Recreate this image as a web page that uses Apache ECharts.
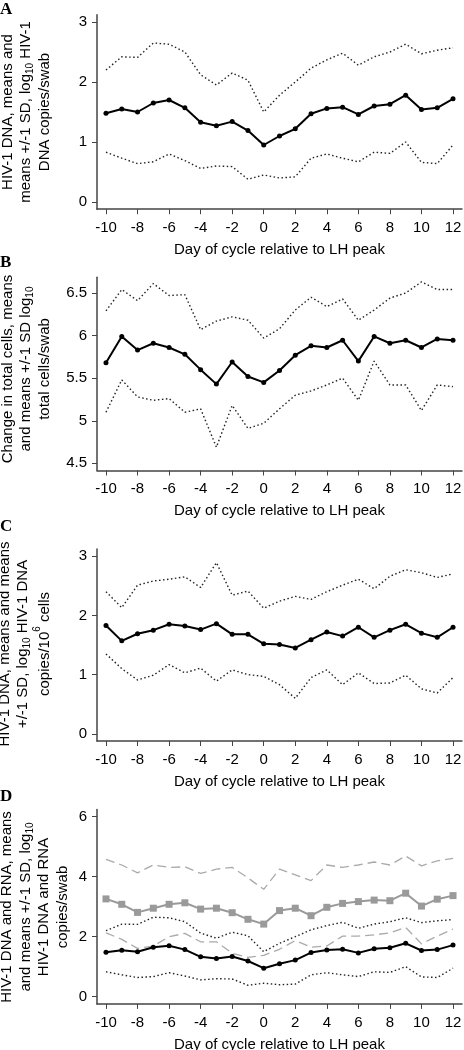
<!DOCTYPE html>
<html><head><meta charset="utf-8">
<script src="https://cdn.jsdelivr.net/npm/echarts@6/dist/echarts.min.js"></script>
<style>html,body{margin:0;padding:0;background:#fff}#c{width:464px;height:1050px}</style>
</head><body><div id="c"></div>
<script>
// ---- data ----
const days = [-10,-9,-8,-7,-6,-5,-4,-3,-2,-1,0,1,2,3,4,5,6,7,8,9,10,11,12];
const xTicks = [-10,-8,-6,-4,-2,0,2,4,6,8,10,12];

// Panel A (and D): HIV-1 DNA copies/swab
const dnaMean  = [1.48,1.55,1.50,1.65,1.70,1.57,1.33,1.27,1.34,1.19,0.95,1.10,1.22,1.47,1.56,1.58,1.46,1.60,1.63,1.78,1.54,1.57,1.72];
const dnaUpper = [2.20,2.42,2.41,2.65,2.63,2.50,2.12,1.95,2.15,2.03,1.50,1.78,2.00,2.23,2.37,2.48,2.28,2.42,2.50,2.63,2.47,2.53,2.57];
const dnaLower = [0.83,0.73,0.64,0.67,0.80,0.69,0.56,0.60,0.59,0.38,0.45,0.40,0.42,0.73,0.80,0.73,0.67,0.83,0.81,1.00,0.66,0.64,0.95];

// Panel B: total cells/swab
const cellsMean  = [5.68,5.99,5.83,5.91,5.86,5.78,5.60,5.43,5.69,5.52,5.45,5.59,5.77,5.88,5.86,5.945,5.70,5.99,5.91,5.945,5.86,5.96,5.945];
const cellsUpper = [6.29,6.54,6.41,6.61,6.47,6.48,6.07,6.17,6.22,6.18,5.97,6.08,6.30,6.45,6.34,6.43,6.18,6.30,6.44,6.50,6.63,6.54,6.54];
const cellsLower = [5.10,5.48,5.28,5.24,5.26,5.10,5.14,4.69,5.18,4.91,4.97,5.14,5.30,5.35,5.42,5.50,5.24,5.70,5.42,5.42,5.12,5.42,5.40];

// Panel C: HIV-1 DNA copies/10^6 cells
const dnaCellMean  = [1.83,1.57,1.69,1.75,1.85,1.82,1.76,1.86,1.68,1.68,1.52,1.51,1.45,1.59,1.72,1.65,1.80,1.63,1.75,1.85,1.70,1.63,1.80];
const dnaCellUpper = [2.40,2.13,2.51,2.58,2.61,2.65,2.47,2.89,2.34,2.41,2.12,2.24,2.32,2.27,2.40,2.51,2.61,2.45,2.66,2.77,2.72,2.64,2.70];
const dnaCellLower = [1.35,1.10,0.91,0.99,1.17,1.03,1.11,0.89,1.08,1.00,0.97,0.83,0.60,0.95,1.08,0.83,1.03,0.85,0.86,0.99,0.76,0.69,0.95];

// Panel D: HIV-1 RNA copies/swab
const rnaMean  = [3.26,3.08,2.81,2.95,3.08,3.13,2.92,2.95,2.80,2.58,2.42,2.87,2.95,2.70,2.98,3.11,3.17,3.22,3.20,3.45,3.02,3.25,3.37];
const rnaUpper = [4.58,4.39,4.13,4.39,4.31,4.33,4.11,4.25,4.31,3.96,3.58,4.25,4.06,3.87,4.39,4.31,4.39,4.49,4.39,4.69,4.36,4.53,4.61];
const rnaLower = [2.13,1.91,1.61,1.69,2.00,2.11,1.83,1.83,1.45,1.31,1.38,1.58,1.87,1.65,1.69,2.02,2.02,2.06,2.13,2.31,1.76,2.02,2.25];

const yTicksA = [0,1,2,3];
const yTicksB = [4.5,5,5.5,6,6.5];
const yTicksC = [0,1,2,3];
const yTicksD = [0,2,4,6];

const panelLetters = ['A','B','C','D'];
const xTitle = 'Day of cycle relative to LH peak';
const yTitleA = 'HIV-1 DNA, means and\nmeans +/-1 SD, log{sub|10} HIV-1\nDNA copies/swab';
const yTitleB = 'Change in total cells, means\nand means +/-1 SD log{sub|10}\ntotal cells/swab';
const yTitleC = 'HIV-1 DNA, means and means\n+/-1 SD, log{sub|10} HIV-1 DNA\ncopies/10{sup|6} cells';
const yTitleD = 'HIV-1 DNA and RNA, means\nand means +/-1 SD, log{sub|10}\nHIV-1 DNA and RNA\ncopies/swab';

// ---- layout / styles ----
const SANS = 'Liberation Sans, Arial, Helvetica, sans-serif';
const panels = [
  {top: 14.8, height: 194.4, ymin: -0.12, ymax: 3.12, ticks: yTicksA, title: yTitleA, tx: 26, ty: 112, letterTop: 1},
  {top: 277.3, height: 193.2, ymin: 4.416, ymax: 6.684, ticks: yTicksB, title: yTitleB, tx: 26, ty: 369, letterTop: 254},
  {top: 549, height: 192, ymin: -0.12, ymax: 3.12, ticks: yTicksC, title: yTitleC, tx: 26, ty: 644, letterTop: 518},
  {top: 809.5, height: 194.4, ymin: -0.24, ymax: 6.24, ticks: yTicksD, title: yTitleD, tx: 35, ty: 907, letterTop: 788}
];
const axisColor = '#444';
const LH = 18.5;
const rich = {
  sub: {fontSize: 10, fontFamily: SANS, fill: '#000', verticalAlign: 'bottom', lineHeight: 12},
  sup: {fontSize: 10, fontFamily: SANS, fill: '#000', verticalAlign: 'top', lineHeight: 24}
};

const pairs = arr => days.map((d, i) => [d, arr[i]]);

const grid = panels.map(p => ({left: 97, right: 2, top: p.top, height: p.height, containLabel: false, outerBoundsMode: 'none'}));
const xAxis = panels.map((p, i) => ({
  type: 'value', gridIndex: i, min: -10.57, max: 12.57,
  axisLine: {show: true, onZero: false, lineStyle: {color: axisColor, width: 1.5}},
  axisTick: {show: true, length: 5, customValues: xTicks, lineStyle: {color: axisColor, width: 1}},
  axisLabel: {customValues: xTicks, margin: 11, fontSize: 15, color: '#000', fontFamily: SANS},
  splitLine: {show: false},
  name: xTitle, nameLocation: 'middle', nameGap: 33,
  nameTextStyle: {fontSize: 15, color: '#000', fontFamily: SANS}
}));
const yAxis = panels.map((p, i) => ({
  type: 'value', gridIndex: i, min: p.ymin, max: p.ymax,
  axisLine: {show: true, onZero: false, lineStyle: {color: axisColor, width: 1.5}},
  axisTick: {show: true, length: 5, customValues: p.ticks, lineStyle: {color: axisColor, width: 1}},
  axisLabel: {customValues: p.ticks, margin: 10, fontSize: 15, color: '#000', fontFamily: SANS},
  splitLine: {show: false}
}));

function meanSeries(arr, idx) {
  return {type: 'line', xAxisIndex: idx, yAxisIndex: idx, data: pairs(arr), symbol: 'circle', symbolSize: 5,
    lineStyle: {color: '#000', width: 2}, itemStyle: {color: '#000'}, z: 5};
}
function sdSeries(arr, idx) {
  return {type: 'line', xAxisIndex: idx, yAxisIndex: idx, data: pairs(arr), symbol: 'none',
    lineStyle: {color: '#222', width: 1.4, type: [1.5, 2.5]}, z: 3};
}
function rnaMeanSeries(arr, idx) {
  return {type: 'line', xAxisIndex: idx, yAxisIndex: idx, data: pairs(arr), symbol: 'rect', symbolSize: 7,
    lineStyle: {color: '#999', width: 2}, itemStyle: {color: '#9a9a9a'}, z: 4};
}
function rnaSdSeries(arr, idx) {
  return {type: 'line', xAxisIndex: idx, yAxisIndex: idx, data: pairs(arr), symbol: 'none',
    lineStyle: {color: '#aaa', width: 1.3, type: [9, 5]}, z: 2};
}

const series = [
  sdSeries(dnaUpper, 0), sdSeries(dnaLower, 0), meanSeries(dnaMean, 0),
  sdSeries(cellsUpper, 1), sdSeries(cellsLower, 1), meanSeries(cellsMean, 1),
  sdSeries(dnaCellUpper, 2), sdSeries(dnaCellLower, 2), meanSeries(dnaCellMean, 2),
  rnaSdSeries(rnaUpper, 3), rnaSdSeries(rnaLower, 3), rnaMeanSeries(rnaMean, 3),
  sdSeries(dnaUpper, 3), sdSeries(dnaLower, 3), meanSeries(dnaMean, 3)
];

const title = panels.map((p, i) => ({
  text: panelLetters[i], left: 0, top: p.letterTop, padding: 0,
  textStyle: {fontFamily: 'Liberation Serif, Times New Roman, serif', fontWeight: 'bold', fontSize: 17, color: '#000'}
}));

// rotated y-axis titles (centred lines)
const graphic = panels.map(p => ({
  type: 'text', x: p.tx, y: p.ty, rotation: Math.PI / 2,
  style: {text: p.title, align: 'center', verticalAlign: 'middle', fontSize: 15, lineHeight: LH,
          fontFamily: SANS, fill: '#000', rich: rich}
}));

const chart = echarts.init(document.getElementById('c'), null, {renderer: 'canvas'});
chart.setOption({animation: false, backgroundColor: '#fff', title, grid, xAxis, yAxis, series, graphic});
</script></body></html>
